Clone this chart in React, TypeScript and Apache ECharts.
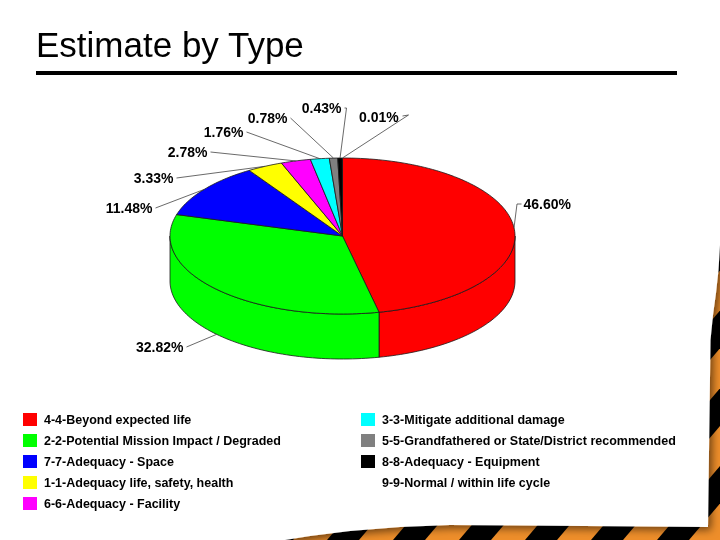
import React, { useEffect, useRef } from 'react';
import * as echarts from 'echarts';

// ---- data ----
const CATEGORIES = [
  '4-4-Beyond expected life',
  '2-2-Potential Mission Impact / Degraded',
  '7-7-Adequacy - Space',
  '1-1-Adequacy life, safety, health',
  '6-6-Adequacy - Facility',
  '3-3-Mitigate additional damage',
  '5-5-Grandfathered or State/District recommended',
  '8-8-Adequacy - Equipment',
  '9-9-Normal / within life cycle',
];
const VALUES = [46.6, 32.82, 11.48, 3.33, 2.78, 1.76, 0.78, 0.43, 0.01];
const COLORS = ['#FF0000', '#00FF00', '#0000FF', '#FFFF00', '#FF00FF', '#00FFFF', '#808080', '#000000', '#FFFFFF'];
const TITLE = 'Estimate by Type';

// ---- layout (not data) ----
const CX = 342.5;
const CY = 236;
const RX = 172.5;
const RY = 78;
const DEPTH = 45;
// label text positions and leader bends, relative to pie centre
const LABEL_LAYOUT: { dx: number; dy: number; align: string; line: number[][] }[] = [
  { dx: 181, dy: -32, align: 'left', line: [[174.5, -32], [179, -32]] },
  { dx: -159, dy: 111, align: 'right', line: [[-156, 111]] },
  { dx: -190, dy: -28, align: 'right', line: [[-187, -28]] },
  { dx: -169, dy: -58, align: 'right', line: [[-166, -58]] },
  { dx: -135, dy: -84, align: 'right', line: [[-132, -84]] },
  { dx: -99, dy: -104, align: 'right', line: [[-96, -104]] },
  { dx: -55, dy: -118, align: 'right', line: [[-52, -118]] },
  { dx: -1, dy: -128, align: 'right', line: [[4, -128], [2, -128]] },
  { dx: 16.5, dy: -119, align: 'left', line: [[66, -121], [60, -120]] },
];

const FONT = '"Liberation Sans", Arial, Helvetica, sans-serif';

function pt(deg: number, dy = 0): number[] {
  const r = (deg * Math.PI) / 180;
  return [CX + RX * Math.sin(r), CY - RY * Math.cos(r) + dy];
}
function arc(a0: number, a1: number, dy = 0): number[][] {
  const n = Math.max(2, Math.ceil(Math.abs(a1 - a0) / 1.5) + 1);
  const out: number[][] = [];
  for (let k = 0; k < n; k++) out.push(pt(a0 + ((a1 - a0) * k) / (n - 1), dy));
  return out;
}

export default function App() {
  const ref = useRef<HTMLDivElement>(null);
  useEffect(() => {
    if (!ref.current) return;
    const chart = echarts.init(ref.current, undefined, { renderer: 'svg' });
    const total = VALUES.reduce((a, b) => a + b, 0);

    // background: hazard stripes under a curled white page
    const A = 0.85, P = 66, W = 32;
    const bg: any[] = [
      { type: 'rect', shape: { x: 0, y: 0, width: 720, height: 540 }, style: { fill: '#EE8E2A' }, z: -10, silent: true },
    ];
    for (let c = 60; c < 720 + 540 * A + P; c += P) {
      bg.push({
        type: 'polygon',
        shape: { points: [[c, 0], [c + W, 0], [c + W - 540 * A, 540], [c - 540 * A, 540]] },
        style: { fill: '#000000' },
        z: -9,
        silent: true,
      });
    }
    bg.push({
      type: 'polygon',
      shape: {
        points: [[0, 0], [720, 0], [720, 245], [718.5, 270], [716, 293], [713, 315], [710.5, 340], [708, 527],
          [450, 525], [400, 527], [350, 531], [310, 536], [285, 540], [0, 540]],
      },
      style: { fill: '#FFFFFF', shadowBlur: 8, shadowColor: 'rgba(0,0,0,0.55)', shadowOffsetX: 3, shadowOffsetY: 3 },
      z: -8,
      silent: true,
    });
    bg.push({
      type: 'rect',
      shape: { x: 36, y: 71, width: 641, height: 4 },
      style: { fill: '#000000' },
      z: 1,
      silent: true,
    });

    const legendCommon = {
      orient: 'vertical',
      top: 413,
      padding: 0,
      itemWidth: 14,
      itemHeight: 13,
      itemGap: 8,
      icon: 'rect',
      selectedMode: false,
      itemStyle: { borderWidth: 0 },
      textStyle: { fontFamily: FONT, fontWeight: 'bold', fontSize: 12.5, color: '#000', padding: [0, 0, 0, 2] },
    };

    chart.setOption({
      animation: false,
      title: {
        text: TITLE,
        left: 36,
        top: 27,
        padding: 0,
        textStyle: { fontFamily: FONT, fontWeight: 'normal', fontSize: 35, color: '#000' },
      },
      graphic: { elements: bg },
      legend: [
        { ...legendCommon, left: 23, data: CATEGORIES.slice(0, 5) },
        { ...legendCommon, left: 361, data: CATEGORIES.slice(5) },
      ],
      series: [
        {
          // legend provider only
          type: 'pie',
          radius: [0, 0],
          center: [-100, -100],
          silent: true,
          label: { show: false },
          labelLine: { show: false },
          itemStyle: { borderWidth: 0 },
          data: CATEGORIES.map((n, i) => ({ name: n, value: VALUES[i], itemStyle: { color: COLORS[i] } })),
        },
        {
          type: 'custom',
          coordinateSystem: 'none',
          silent: true,
          data: VALUES.map((v) => [v]),
          renderItem: (params: any, api: any) => {
            const i = params.dataIndex;
            const v = api.value(0);
            let before = 0;
            for (let k = 0; k < i; k++) before += VALUES[k];
            const start = (before / total) * 360;
            const end = ((before + v) / total) * 360;
            const stroke = '#1a1a1a';
            const children: any[] = [];
            const s0 = Math.max(start, 90);
            const s1 = Math.min(end, 270);
            if (s1 > s0) {
              const topArc = arc(s0, s1);
              const botArc = arc(s0, s1, DEPTH).reverse();
              children.push({
                type: 'polygon',
                shape: { points: topArc.concat(botArc) },
                style: { fill: COLORS[i], stroke, lineWidth: 0.8 },
              });
            }
            children.push({
              type: 'polygon',
              shape: { points: [[CX, CY]].concat(arc(start, end)) },
              style: { fill: COLORS[i], stroke, lineWidth: 0.8, lineJoin: 'round' },
            });
            const mid = (start + end) / 2;
            const anchor = mid > 90 && mid < 270 ? pt(mid, DEPTH) : pt(mid);
            const L = LABEL_LAYOUT[i];
            const linePts = [anchor].concat(L.line.map((p) => [CX + p[0], CY + p[1]]));
            children.push({
              type: 'polyline',
              shape: { points: linePts },
              style: { stroke: '#444', lineWidth: 0.8, fill: null },
              z2: 10,
            });
            children.push({
              type: 'text',
              style: {
                text: v.toFixed(2) + '%',
                x: CX + L.dx,
                y: CY + L.dy,
                align: L.align,
                verticalAlign: 'middle',
                fontFamily: FONT,
                fontWeight: 'bold',
                fontSize: 14,
                fill: '#000',
              },
              z2: 11,
            });
            return { type: 'group', children };
          },
        },
      ],
    });
    return () => chart.dispose();
  }, []);
  return <div ref={ref} style={{ position: 'fixed', left: 0, top: 0, width: 720, height: 540 }} />;
}
